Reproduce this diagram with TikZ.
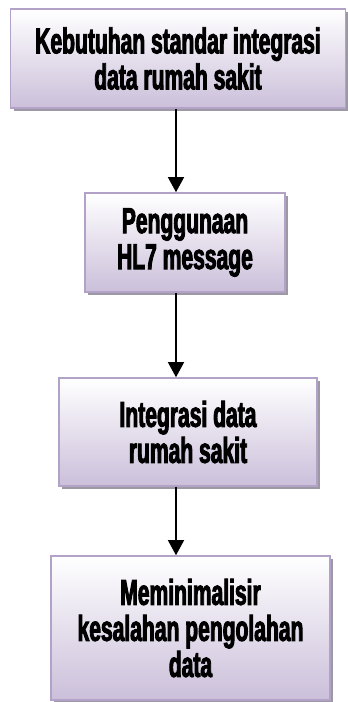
\documentclass[tikz,border=0pt]{standalone}
\usepackage{fontspec}
\setmainfont{Liberation Sans}
\newfontfamily\boxfont{Liberation Sans Bold}[FakeStretch=0.585, FakeBold=2.5]
\usetikzlibrary{shadows,arrows.meta}
\definecolor{boxline}{HTML}{B3A2C7}
\definecolor{boxbot}{HTML}{CBBFDA}
\definecolor{boxshadow}{HTML}{9C98A4}
\tikzset{
  flowbox/.style={draw=boxline, line width=1.6pt, top color=white, bottom color=boxbot,
    drop shadow={shadow xshift=3pt, shadow yshift=-3pt, fill=boxshadow, opacity=1},
    align=center, inner sep=0pt,
    font=\boxfont\fontsize{36}{36}\selectfont},
  flowarrow/.style={line width=1.3pt, -{Triangle[length=15pt,width=16pt]}}
}
\begin{document}
\begin{tikzpicture}[x=1pt,y=-1pt]
\useasboundingbox (0,0) rectangle (348,702);
\node[flowbox, minimum width=335pt, minimum height=99pt] (b1) at (178,58.5) {Kebutuhan standar integrasi\\data rumah sakit};
\node[flowbox, minimum width=200pt, minimum height=99pt] (b2) at (185,242.5) {Penggunaan\\HL7 message};
\node[flowbox, minimum width=258pt, minimum height=108pt] (b3) at (188,432) {Integrasi data\\rumah sakit};
\node[flowbox, minimum width=279pt, minimum height=144pt] (b4) at (190.5,628) {Meminimalisir\\kesalahan pengolahan\\data};
\coordinate (ax) at (176,0);
\draw[flowarrow] (b1.south -| ax) -- (b2.north -| ax);
\draw[flowarrow] (b2.south -| ax) -- (b3.north -| ax);
\draw[flowarrow] (b3.south -| ax) -- (b4.north -| ax);
\end{tikzpicture}
\end{document}
